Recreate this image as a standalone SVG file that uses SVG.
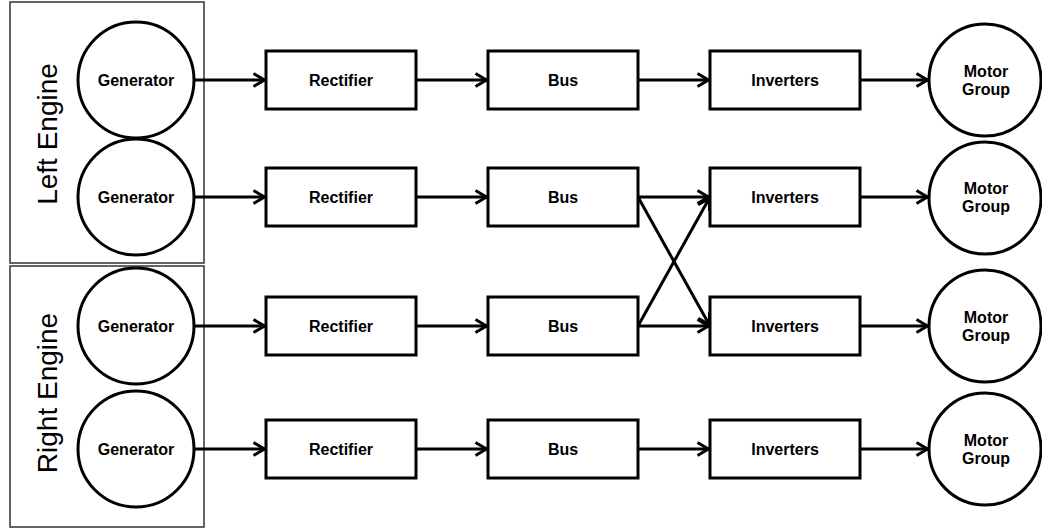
<svg xmlns="http://www.w3.org/2000/svg" width="1042" height="529" viewBox="0 0 1042 529">
  <defs>
    <marker id="arrow" markerUnits="userSpaceOnUse" markerWidth="20" markerHeight="20" viewBox="-16 -10 18 20" refX="0" refY="0" orient="auto">
      <path d="M-12.5,-6.5 L-1.5,0 L-12.5,6.5" fill="none" stroke="#000" stroke-width="3" stroke-linejoin="miter"/>
    </marker>
  </defs>
  <style>
    .engine { fill: #fff; stroke: #333; stroke-width: 1.5; }
    .engine-label { font-family: "Liberation Sans", Arial, sans-serif; font-size: 28px; fill: #000; text-anchor: middle; }
    .node { fill: #fff; stroke: #000; stroke-width: 3; }
    .label { font-family: "Liberation Sans", Arial, sans-serif; font-size: 16px; font-weight: bold; fill: #000; text-anchor: middle; }
    .wire { stroke: #000; stroke-width: 3; fill: none; marker-end: url(#arrow); }
  </style>
  <rect width="1042" height="529" fill="#fff"/>

  <!-- engine enclosures -->
  <g id="left-engine">
    <rect class="engine" x="10" y="2" width="194" height="261"/>
    <text class="engine-label" transform="translate(57,134) rotate(-90)">Left Engine</text>
  </g>
  <g id="right-engine">
    <rect class="engine" x="10" y="266" width="194" height="261"/>
    <text class="engine-label" transform="translate(57,393) rotate(-90)">Right Engine</text>
  </g>

  <!-- connectors -->
  <g id="connectors">
    <line class="wire" x1="194" y1="80" x2="266" y2="80"/>
    <line class="wire" x1="416" y1="80" x2="488" y2="80"/>
    <line class="wire" x1="638" y1="80" x2="710" y2="80"/>
    <line class="wire" x1="860" y1="80" x2="929" y2="80"/>

    <line class="wire" x1="194" y1="197" x2="266" y2="197"/>
    <line class="wire" x1="416" y1="197" x2="488" y2="197"/>
    <line class="wire" x1="638" y1="197" x2="710" y2="197"/>
    <line class="wire" x1="860" y1="197" x2="929" y2="197"/>

    <line class="wire" x1="194" y1="326" x2="266" y2="326"/>
    <line class="wire" x1="416" y1="326" x2="488" y2="326"/>
    <line class="wire" x1="638" y1="326" x2="710" y2="326"/>
    <line class="wire" x1="860" y1="326" x2="929" y2="326"/>

    <line class="wire" x1="194" y1="449" x2="266" y2="449"/>
    <line class="wire" x1="416" y1="449" x2="488" y2="449"/>
    <line class="wire" x1="638" y1="449" x2="710" y2="449"/>
    <line class="wire" x1="860" y1="449" x2="929" y2="449"/>

    <!-- cross-feed between buses and inverters -->
    <line class="wire" x1="638" y1="197" x2="710" y2="326"/>
    <line class="wire" x1="638" y1="326" x2="710" y2="197"/>
  </g>

  <!-- row 1 -->
  <g id="gen1"><circle class="node" cx="136" cy="80" r="58"/><text class="label" x="136" y="86">Generator</text></g>
  <g id="rect1"><rect class="node" x="266" y="51" width="150" height="58"/><text class="label" x="341" y="86">Rectifier</text></g>
  <g id="bus1"><rect class="node" x="488" y="51" width="150" height="58"/><text class="label" x="563" y="86">Bus</text></g>
  <g id="inv1"><rect class="node" x="710" y="51" width="150" height="58"/><text class="label" x="785" y="86">Inverters</text></g>
  <g id="motor1"><circle class="node" cx="985" cy="80" r="56"/><text class="label" x="986" y="77">Motor</text><text class="label" x="986" y="95">Group</text></g>

  <!-- row 2 -->
  <g id="gen2"><circle class="node" cx="136" cy="197" r="58"/><text class="label" x="136" y="203">Generator</text></g>
  <g id="rect2"><rect class="node" x="266" y="168" width="150" height="58"/><text class="label" x="341" y="203">Rectifier</text></g>
  <g id="bus2"><rect class="node" x="488" y="168" width="150" height="58"/><text class="label" x="563" y="203">Bus</text></g>
  <g id="inv2"><rect class="node" x="710" y="168" width="150" height="58"/><text class="label" x="785" y="203">Inverters</text></g>
  <g id="motor2"><circle class="node" cx="985" cy="198" r="56"/><text class="label" x="986" y="194">Motor</text><text class="label" x="986" y="212">Group</text></g>

  <!-- row 3 -->
  <g id="gen3"><circle class="node" cx="136" cy="326" r="58"/><text class="label" x="136" y="332">Generator</text></g>
  <g id="rect3"><rect class="node" x="266" y="297" width="150" height="58"/><text class="label" x="341" y="332">Rectifier</text></g>
  <g id="bus3"><rect class="node" x="488" y="297" width="150" height="58"/><text class="label" x="563" y="332">Bus</text></g>
  <g id="inv3"><rect class="node" x="710" y="297" width="150" height="58"/><text class="label" x="785" y="332">Inverters</text></g>
  <g id="motor3"><circle class="node" cx="985" cy="326" r="56"/><text class="label" x="986" y="323">Motor</text><text class="label" x="986" y="341">Group</text></g>

  <!-- row 4 -->
  <g id="gen4"><circle class="node" cx="136" cy="449" r="58"/><text class="label" x="136" y="455">Generator</text></g>
  <g id="rect4"><rect class="node" x="266" y="420" width="150" height="58"/><text class="label" x="341" y="455">Rectifier</text></g>
  <g id="bus4"><rect class="node" x="488" y="420" width="150" height="58"/><text class="label" x="563" y="455">Bus</text></g>
  <g id="inv4"><rect class="node" x="710" y="420" width="150" height="58"/><text class="label" x="785" y="455">Inverters</text></g>
  <g id="motor4"><circle class="node" cx="985" cy="449" r="56"/><text class="label" x="986" y="446">Motor</text><text class="label" x="986" y="464">Group</text></g>
</svg>
